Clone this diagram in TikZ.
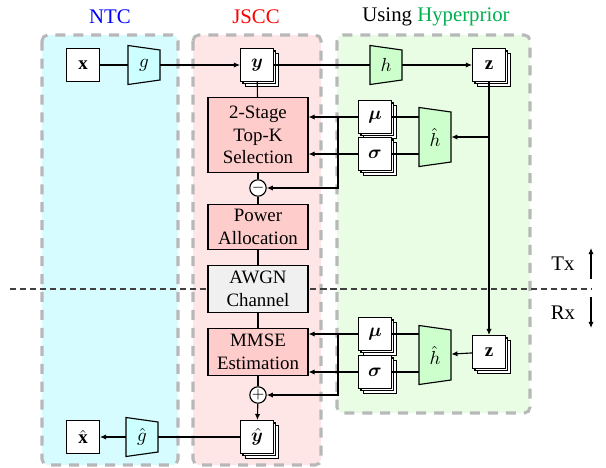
\documentclass[tikz,border=0pt]{standalone}
\usepackage{amsmath,bm}
\usepackage{fontspec}
\setmainfont{Liberation Serif}
\usetikzlibrary{arrows.meta,calc,shadows}

\definecolor{ntcbg}{RGB}{214,252,255}
\definecolor{jsccbg}{RGB}{255,230,230}
\definecolor{hypbg}{RGB}{232,253,228}
\definecolor{jsccbox}{RGB}{255,204,204}
\definecolor{ntcfill}{RGB}{204,255,255}
\definecolor{hypfill}{RGB}{204,255,204}
\definecolor{hypgreen}{RGB}{0,176,80}

% trapezoid coder: name, position, label, half height, fill
\newcommand{\coder}[5]{%
  \draw[line,fill=#5] ($(#2)+(-16,-#4)$) -- ($(#2)+(16,-#4+4.5)$)
    -- ($(#2)+(16,#4-4.5)$) -- ($(#2)+(-16,#4)$) -- cycle;
  \node[minimum width=0.595cm,minimum height=0.5cm,inner sep=0pt] (#1) at (#2) {#3};}

\begin{document}
\begin{tikzpicture}[x=0.0186cm,y=-0.0186cm,
    line/.style={line width=0.6pt},
    arr/.style={line width=0.6pt,-{Latex[length=3.2pt,width=2.8pt]}},
    area/.style={draw=black!28,line width=1.6pt,dash pattern=on 5.3pt off 4.2pt,
        rounded corners=3pt},
    sq/.style={draw,line width=0.6pt,fill=white,minimum size=0.61cm,inner sep=0pt},
    stack/.style={sq,double copy shadow={shadow xshift=1.3pt,shadow yshift=-1.3pt}},
    blk/.style={draw,line width=0.6pt,fill=jsccbox,minimum width=1.86cm,
        align=center,inner sep=1pt},
    op/.style={draw,circle,line width=0.6pt,fill=white,minimum size=0.3cm,
        inner sep=0pt,font=\footnotesize}]

    \useasboundingbox (0,0) rectangle (606,468);

    % the areas
    \draw[area,fill=ntcbg] (42,35) rectangle (178,465);
    \draw[area,fill=jsccbg] (193,35) rectangle (321,465);
    \draw[area,fill=hypbg] (337,35) rectangle (530,413);

    \node[font=\fontsize{11}{13}\selectfont,text=blue] (ntc) at (110,17) {NTC};
    \node[font=\fontsize{11}{13}\selectfont,text=red] (jscc) at (256,17) {JSCC};
    \node[font=\fontsize{11}{13}\selectfont] (hyp) at (436,17)
        {Using \textcolor{hypgreen}{Hyperprior}};

    % Tx / Rx split
    \coordinate (dl) at (10,289);
    \coordinate (dr) at (592,289);
    \draw[line width=0.6pt,black!75,dash pattern=on 3.2pt off 2.1pt] (dl) -- (dr);
    \node[font=\fontsize{11}{13}\selectfont] (tx) at (563,264) {Tx};
    \node[font=\fontsize{11}{13}\selectfont] (rx) at (563,313) {Rx};
    \coordinate (tx0) at (591,279);
    \coordinate (tx1) at (591,248);
    \coordinate (rx0) at (591,297);
    \coordinate (rx1) at (591,328);
    \draw[arr] (tx0) -- (tx1);
    \draw[arr] (rx0) -- (rx1);

    % the blocks
    \node[sq] (x) at (83,65) {$\mathbf{x}$};
    \coder{g}{144,65}{$g$}{19.5}{ntcfill}
    \node[stack] (y) at (257,65) {$\bm{y}$};
    \coder{h}{386,65}{$h$}{19.5}{hypfill}
    \node[stack] (z) at (489,65) {$\mathbf{z}$};

    \node[blk,minimum height=1.38cm] (topk) at (258,135)
        {2-Stage\\Top-K\\Selection};
    \node[stack] (mu) at (375,117) {$\bm{\mu}$};
    \node[stack] (sig) at (375,154) {$\bm{\sigma}$};
    \coder{hh}{435,137}{$\hat{h}$}{29.5}{hypfill}
    \node[op] (minus) at (258,188) {$-$};
    \node[blk,minimum height=0.84cm] (power) at (258,227)
        {Power\\Allocation};
    \node[blk,fill=black!6,minimum height=0.89cm] (awgn) at (258,289)
        {AWGN\\Channel};
    \node[blk,minimum height=0.89cm] (mmse) at (258,352)
        {MMSE\\Estimation};
    \node[stack] (mur) at (375,334) {$\bm{\mu}$};
    \node[stack] (sigr) at (375,372) {$\bm{\sigma}$};
    \coder{hhr}{435,355}{$\hat{h}$}{29.5}{hypfill}
    \node[stack] (zr) at (489,352) {$\mathbf{z}$};
    \node[op] (plus) at (258,395) {$+$};
    \node[stack] (yh) at (257,437) {$\hat{\bm{y}}$};
    \coder{gh}{142,437}{$\hat{g}$}{19.5}{ntcfill}
    \node[sq] (xh) at (83,437) {$\hat{\mathbf{x}}$};

    % the connectors
    \draw[line] (x) -- (g);
    \draw[arr] (g) -- (y);
    \draw[line] (y) -- (h);
    \draw[arr] (h) -- (z);
    \draw[line] (y) -- (topk);

    \draw[arr] (mu) -- (mu -| topk.east);
    \draw[arr] (sig) -- (sig -| topk.east);
    \coordinate (brt) at (338,117);
    \draw[arr] (brt) |- (minus);
    \draw[line] (mu) -- (mu -| hh.west);
    \draw[line] (sig) -- (sig -| hh.west);
    \draw[arr] (z) -- (zr);
    \draw[arr] (z |- hh) -- (hh);

    \draw[line] (topk) -- (minus) -- (power) -- (awgn) -- (mmse) -- (plus);
    \draw[arr] (plus) -- (yh);

    \draw[arr] (mur) -- (mur -| mmse.east);
    \draw[arr] (sigr) -- (sigr -| mmse.east);
    \coordinate (brr) at (338,334);
    \draw[arr] (brr) |- (plus);
    \draw[line] (mur) -- (mur -| hhr.west);
    \draw[line] (sigr) -- (sigr -| hhr.west);
    \draw[arr] (zr) -- (hhr);

    \draw[line] (yh) -- (gh);
    \draw[arr] (gh) -- (xh);
\end{tikzpicture}
\end{document}
